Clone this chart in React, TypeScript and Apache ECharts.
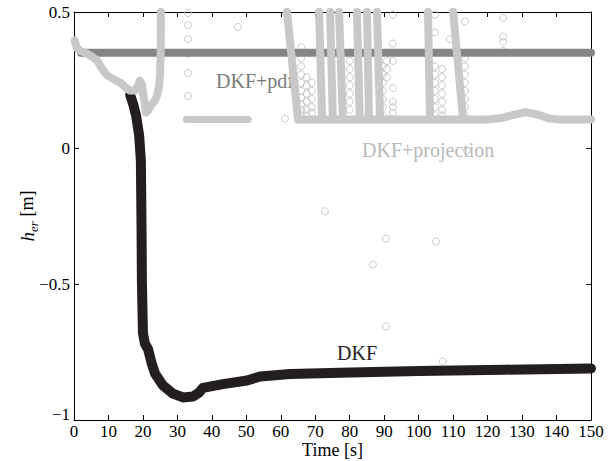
import React, { useEffect, useRef } from "react";
import * as echarts from "echarts";

// DKF (black)
const dkf: [number, number][] = [
  [16.3, 0.195], [17.2, 0.16], [18.0, 0.12], [18.9, 0.046], [19.4, -0.046],
  [19.6, -0.3], [19.7, -0.49], [20.0, -0.68], [20.6, -0.72], [21.5, -0.74],
  [22.5, -0.79], [23.5, -0.829], [25.8, -0.873], [28.7, -0.903], [31.6, -0.917],
  [34.5, -0.914], [36.3, -0.899], [37.4, -0.882], [43.2, -0.868], [50.2, -0.855],
  [54, -0.84], [62.7, -0.831], [77.2, -0.826], [100, -0.82], [125, -0.815], [150, -0.811],
];

// DKF+pdf (dark gray)
const pdf: [number, number][] = [[2, 0.35], [150, 0.35]];

// DKF+projection (light gray): early curve
const projEarly: [number, number][] = [
  [0.2, 0.395], [0.9, 0.366], [1.7, 0.358], [3.8, 0.347], [5.2, 0.336], [6.7, 0.322],
  [8.1, 0.292], [9.6, 0.267], [11.3, 0.255], [13.3, 0.241], [15.1, 0.222], [16.2, 0.211],
  [17.7, 0.211], [18.6, 0.23], [19.1, 0.248], [19.7, 0.233], [20.0, 0.204], [20.6, 0.156],
  [20.9, 0.13], [21.5, 0.138], [22.3, 0.156], [23.5, 0.175], [24.1, 0.193], [24.7, 0.23],
  [25.0, 0.278], [25.2, 0.395], [25.2, 0.5],
];
// lower bound segment
const projLow: [number, number][] = [[32.6, 0.105], [50.5, 0.105]];
// lower bound baseline with bump
const projBase: [number, number][] = [
  [65, 0.105], [120, 0.105], [124, 0.11], [127.5, 0.122], [131, 0.132],
  [134.5, 0.123], [138, 0.108], [141, 0.105], [150, 0.105],
];
// bands falling from upper bound (time at top, time at bottom)
const projBands: [number, number][] = [
  [61.8, 65.0], [71.1, 72.0], [74.3, 75.1], [76.9, 78.0], [82.1, 82.9],
  [85.0, 85.6], [87.9, 88.8], [102.7, 103.3], [110.0, 112.9],
];
const bandTop = 0.5;
const bandBottom = 0.105;
// isolated projection samples
const projDots: [number, number][] = [
  [33.1, 0.496], [33.1, 0.452], [33.1, 0.4], [33.1, 0.346], [33.1, 0.276], [33.1, 0.191],
  [47.5, 0.445], [61.2, 0.108],
  [65.9, 0.37], [65.9, 0.33], [65.9, 0.3], [65.9, 0.27], [65.9, 0.24], [65.9, 0.21], [65.9, 0.185], [65.9, 0.16], [65.9, 0.14], [65.9, 0.12],
  [67.5, 0.26], [67.5, 0.23], [67.5, 0.2], [67.5, 0.17], [67.5, 0.14], [67.5, 0.12],
  [69, 0.24], [69, 0.21], [69, 0.18], [69, 0.15], [69, 0.13],
  [80, 0.32], [80, 0.29], [80, 0.26], [80, 0.23], [80, 0.2], [80, 0.17], [80, 0.14],
  [89.6, 0.3], [89.6, 0.27], [89.6, 0.24], [89.6, 0.21], [89.6, 0.18], [89.6, 0.15], [89.6, 0.12],
  [90.8, 0.32], [90.8, 0.29], [90.8, 0.26],
  [92.5, 0.49], [92.5, 0.384], [92.5, 0.32], [92.5, 0.22], [92.5, 0.17], [92.5, 0.15], [92.5, 0.13],
  [104.7, 0.49], [104.7, 0.425], [104.7, 0.3], [104.7, 0.27], [104.7, 0.24], [104.7, 0.21], [104.7, 0.18], [104.7, 0.15], [104.7, 0.12],
  [106.8, 0.29], [106.8, 0.26], [106.8, 0.23], [106.8, 0.2], [106.8, 0.17], [106.8, 0.14], [106.8, 0.12],
  [109, 0.4], [109, 0.105],
  [113.4, 0.465], [113.4, 0.33], [113.4, 0.3], [113.4, 0.27], [113.4, 0.24], [113.4, 0.21], [113.4, 0.18], [113.4, 0.15], [113.4, 0.12],
  [124.5, 0.478], [124.5, 0.41], [124.5, 0.39], [124.5, 0.357],
  [72.8, -0.233], [90.5, -0.333], [105, -0.344], [86.7, -0.428], [90.5, -0.656], [107, -0.785], [114, -0.01],
];

const FONT = "Liberation Serif";
const C_DKF = "#231f20";
const C_PDF = "#858585";
const C_PROJ = "#c8c8c8";

export default function App() {
  const ref = useRef<HTMLDivElement>(null);
  useEffect(() => {
    document.body.style.margin = "0";
    if (!ref.current) return;
    const chart = echarts.init(ref.current, null, { renderer: "svg" });

    const bandData: any[] = [];
    projBands.forEach(([a, b]) => {
      bandData.push([a, bandTop], [b, bandBottom], "-");
    });

    const lineBase = (data: any[], color: string, width: number) => ({
      type: "line",
      data,
      showSymbol: false,
      symbol: "none",
      clip: true,
      connectNulls: false,
      lineStyle: { color, width, cap: "round", join: "round" },
      silent: true,
    });

    const tickStyle = { inside: true, length: 5, lineStyle: { color: "#000", width: 1 } };
    const axisLine = { show: true, onZero: false, lineStyle: { color: "#000", width: 1 } };
    const serif = (size: number, extra: any = {}) => ({
      fontFamily: FONT, fontSize: size, fontWeight: "normal", color: "#000", ...extra,
    });

    chart.setOption({
      animation: false,
      backgroundColor: "#fff",
      textStyle: { fontFamily: FONT, fontWeight: "normal" },
      grid: { left: 74, top: 12, width: 517, height: 408, outerBoundsMode: "none", containLabel: false },
      xAxis: [
        {
          type: "value", min: 0, max: 150, interval: 10, position: "bottom",
          axisLine, axisTick: tickStyle, splitLine: { show: false },
          axisLabel: { ...serif(17), margin: 3 },
          name: "Time [s]", nameLocation: "middle", nameGap: 21, nameMoveOverlap: false,
          nameTextStyle: serif(18),
        },
        {
          type: "value", min: 0, max: 150, interval: 10, position: "top",
          axisLine, axisTick: tickStyle, splitLine: { show: false },
          axisLabel: { show: false },
        },
      ],
      yAxis: [
        {
          type: "value", min: -1, max: 0.5, interval: 0.5, position: "left",
          axisLine, axisTick: tickStyle, splitLine: { show: false },
          axisLabel: {
            ...serif(17), margin: 4,
            formatter: (v: number) => {
              const s = v < 0 ? "\u2212" + String(-v) : String(v);
              return v === -1 ? "{b|" + s + "}" : "{a|" + s + "}";
            },
            rich: {
              a: serif(17),
              b: serif(17, { padding: [0, 0, 12, 0] }),
            },
          },
          name: "{h|h}{s|er}{n| [m]}",
          nameLocation: "middle", nameRotate: 90, nameGap: 34, nameMoveOverlap: false,
          nameTextStyle: {
            ...serif(18),
            rich: {
              h: serif(19, { fontStyle: "italic", lineHeight: 22, verticalAlign: "top" }),
              s: serif(13, { fontStyle: "italic", lineHeight: 13, verticalAlign: "bottom" }),
              n: serif(18, { lineHeight: 22, verticalAlign: "top" }),
            },
          },
        },
        {
          type: "value", min: -1, max: 0.5, interval: 0.5, position: "right",
          axisLine, axisTick: tickStyle, splitLine: { show: false },
          axisLabel: { show: false },
        },
      ],
      series: [
        { name: "DKF+pdf", ...lineBase(pdf, C_PDF, 8) },
        { name: "DKF", ...lineBase(dkf, C_DKF, 10) },
        { name: "DKF+projection", ...lineBase(projEarly, C_PROJ, 8) },
        { name: "DKF+projection low", ...lineBase(projLow, C_PROJ, 7) },
        { name: "DKF+projection base", ...lineBase(projBase, C_PROJ, 8) },
        { name: "DKF+projection bands", ...lineBase(bandData, C_PROJ, 8) },
        {
          name: "DKF+projection samples",
          type: "scatter",
          data: projDots,
          symbol: "circle",
          symbolSize: 7,
          silent: true,
          itemStyle: { color: "rgba(255,255,255,0)", borderColor: "#bdbdbd", borderWidth: 1 },
        },
      ],
      graphic: [
        { type: "text", left: 216, top: 71, style: { text: "DKF+pdf", font: `20px "${FONT}"`, fill: "#7a7a7a" } },
        { type: "text", left: 362, top: 140, style: { text: "DKF+projection", font: `20px "${FONT}"`, fill: "#b9b9b9" } },
        { type: "text", left: 337, top: 343, style: { text: "DKF", font: `20px "${FONT}"`, fill: C_DKF } },
      ],
    });
    return () => chart.dispose();
  }, []);
  return (
    <div
      ref={ref}
      style={{ position: "absolute", left: 0, top: 0, width: 609, height: 461, background: "#fff" }}
    />
  );
}
